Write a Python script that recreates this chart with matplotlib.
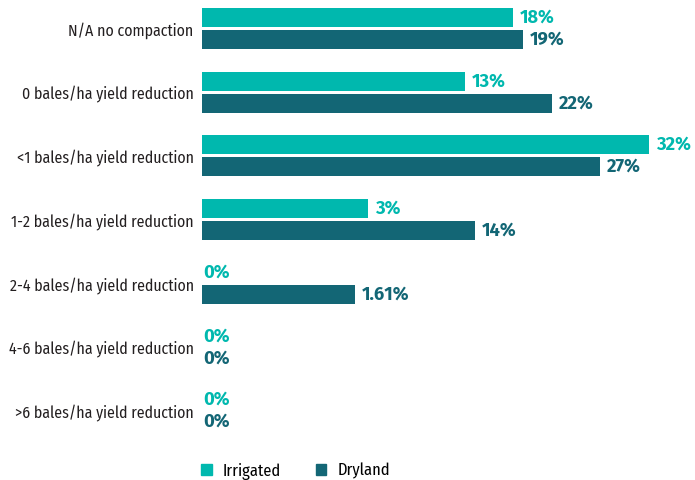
import matplotlib
matplotlib.use("Agg")
import matplotlib.pyplot as plt
from matplotlib.patches import Patch
import numpy as np

categories = ["N/A no compaction", "0 bales/ha yield reduction", "<1 bales/ha yield reduction",
              "1-2 bales/ha yield reduction", "2-4 bales/ha yield reduction",
              "4-6 bales/ha yield reduction", ">6 bales/ha yield reduction"]
irrigated = [18, 13, 32, 3, 0, 0, 0]
dryland = [19, 22, 27, 14, 1.61, 0, 0]
irr_labels = ["18%", "13%", "32%", "3%", "0%", "0%", "0%"]
dry_labels = ["19%", "22%", "27%", "14%", "1.61%", "0%", "0%"]

c_irr = "#00b8ae"
c_dry = "#136675"
label_font = ["Fira Sans Condensed", "Liberation Sans", "DejaVu Sans"]
value_font = ["Fira Sans", "DejaVu Sans"]

# the source chart draws every non-zero bar with a fixed extra stub
stub = 14.2


def bar_len(vals):
    v = np.array(vals, dtype=float)
    return np.where(v > 0, v + stub, 0)


fig = plt.figure(figsize=(6.95, 4.8), dpi=100)
ax = fig.add_axes([202 / 695, 40 / 480, 493 / 695, 440 / 480])

y = np.arange(len(categories))
h = 0.30
off = 0.172
ax.barh(y - off, bar_len(irrigated), height=h, color=c_irr)
ax.barh(y + off, bar_len(dryland), height=h, color=c_dry)

for yy, v, lab in zip(y - off, irrigated, irr_labels):
    ax.annotate(lab, (bar_len([v])[0], yy), xytext=(5 if v > 0 else 0.7, 0),
                textcoords="offset points", va="center", ha="left",
                color=c_irr, fontsize=13.2, fontweight="bold", family=value_font)
for yy, v, lab in zip(y + off, dryland, dry_labels):
    ax.annotate(lab, (bar_len([v])[0], yy), xytext=(5 if v > 0 else 0.7, 0),
                textcoords="offset points", va="center", ha="left",
                color=c_dry, fontsize=13.2, fontweight="bold", family=value_font)

ax.set_xlim(0, 51)
ax.set_ylim(6.46, -0.447)
ax.set_yticks(y)
ax.set_yticklabels(categories, family=label_font, fontsize=11.4, color="#231f20")
ax.tick_params(axis="y", length=0, pad=6)
ax.set_xticks([])
for s in ax.spines.values():
    s.set_visible(False)

handles = [Patch(color=c_irr), Patch(color=c_dry)]
fig.legend(handles, ["Irrigated", "Dryland"], loc="center left",
           bbox_to_anchor=(201 / 695, 1 - 471 / 480), ncol=2, frameon=False,
           prop={"family": label_font, "size": 11.8}, handlelength=0.65, handleheight=0.65,
           handletextpad=0.7, columnspacing=2.1, borderpad=0, borderaxespad=0)

fig.savefig("out.png", dpi=100)
